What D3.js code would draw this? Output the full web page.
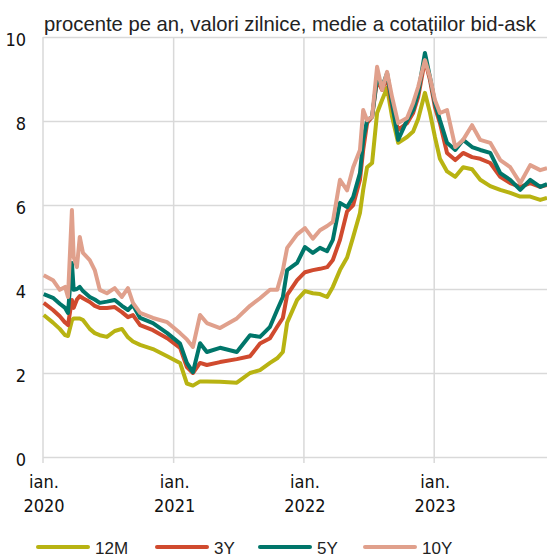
<!DOCTYPE html>
<html>
<head>
<meta charset="utf-8">
<script src="https://cdn.jsdelivr.net/npm/d3@7"></script>
<style>
  body { margin: 0; background: #fff; }
  svg { display: block; }
</style>
</head>
<body>
<div id="chart"></div>
<script>
// observation dates (approx. every 2-4 weeks, denser around spikes)
const dates = ["2020-01-03","2020-01-29","2020-02-17","2020-03-03","2020-03-11","2020-03-22","2020-03-27","2020-04-05","2020-04-13","2020-04-22",
  "2020-05-11","2020-05-25","2020-06-08","2020-06-28","2020-07-20","2020-08-09","2020-08-26","2020-09-09","2020-09-29","2020-11-04",
  "2020-12-14","2021-01-19","2021-02-07","2021-02-24","2021-03-16","2021-04-04","2021-05-11","2021-06-27","2021-08-03","2021-08-31",
  "2021-09-28","2021-10-18","2021-11-03","2021-11-15","2021-12-13","2022-01-04","2022-01-26","2022-02-15","2022-03-07","2022-03-23",
  "2022-04-12","2022-05-02","2022-05-19","2022-06-07","2022-06-16","2022-06-27","2022-07-11","2022-07-25","2022-08-08","2022-08-22",
  "2022-09-05","2022-09-22","2022-10-17","2022-11-03","2022-11-17","2022-12-06","2022-12-20","2023-01-03","2023-01-17","2023-02-06",
  "2023-03-01","2023-03-23","2023-04-17","2023-05-10","2023-06-07","2023-07-05","2023-08-02","2023-08-30","2023-09-27","2023-10-25",
  "2023-11-13"];

const y12M = [3.38,3.2,3.05,2.9,2.88,3.25,3.3,3.3,3.3,3.26, 3.05,2.95,2.9,2.86,3.0,3.05,2.85,2.75,2.67,2.57,
  2.4,2.24,1.75,1.7,1.8,1.8,1.79,1.77,2.0,2.07, 2.24,2.35,2.5,3.2,3.74,3.95,3.9,3.88,3.81,4.05,
  4.45,4.75,5.24,5.81,6.36,6.9,7.0,8.19,8.5,8.79, 8.1,7.48,7.62,7.75,8.05,8.67,8.2,7.62,7.1,6.8,
  6.67,6.9,6.85,6.6,6.45,6.36,6.29,6.2,6.2,6.12, 6.17];

const y3Y = [3.67,3.5,3.35,3.2,3.14,3.74,3.55,3.75,3.83,3.78, 3.69,3.6,3.55,3.55,3.57,3.45,3.33,3.38,3.14,3.02,
  2.83,2.6,2.14,2.0,2.24,2.19,2.26,2.33,2.4,2.7, 2.83,3.1,3.31,3.86,4.21,4.4,4.45,4.48,4.52,4.69,
  5.17,5.85,6.0,6.6,7.31,7.95,8.1,8.98,8.74,9.05, 8.33,7.79,7.95,8.19,8.57,9.45,8.98,8.33,7.95,7.24,
  7.07,7.24,7.14,7.1,7.0,6.67,6.52,6.43,6.52,6.43, 6.48];

const y5Y = [3.88,3.79,3.65,3.55,3.43,4.62,3.98,4.0,4.05,3.95, 3.81,3.75,3.67,3.7,3.74,3.6,3.5,3.62,3.31,3.19,
  2.95,2.7,2.24,2.02,2.71,2.5,2.6,2.5,2.9,2.86, 3.1,3.5,3.81,4.45,4.62,5.0,4.86,4.98,4.9,5.17,
  6.05,5.95,6.19,6.76,7.55,8.02,8.1,9.05,8.81,9.14, 8.43,7.55,8.02,8.26,8.67,9.62,9.05,8.43,8.02,7.48,
  7.31,7.55,7.38,7.31,7.24,6.76,6.6,6.36,6.6,6.43, 6.5];

const y10Y = [4.33,4.21,3.98,4.05,3.81,5.88,4.76,4.52,5.24,4.86, 4.69,4.45,3.98,3.9,4.02,3.81,4.02,3.67,3.43,3.31,
  3.21,2.95,2.8,2.62,3.38,3.19,3.07,3.3,3.6,3.78, 3.98,3.98,4.45,4.98,5.3,5.45,5.2,5.4,5.5,5.6,
  6.6,6.35,6.9,7.31,8.26,8.02,8.1,9.29,8.74,9.17, 8.57,7.95,8.07,8.43,8.81,9.45,9.05,8.5,8.19,8.26,
  7.38,7.55,7.9,7.55,7.48,7.07,6.9,6.52,6.95,6.83, 6.88];

const seriesNames = ["12M", "3Y", "5Y", "10Y"];
const seriesColors = ["#b8b312", "#d04a2e", "#00766a", "#e0a08c"];
const yTicks = [0, 2, 4, 6, 8, 10];
const yearTicks = ["2020-01-01", "2021-01-01", "2022-01-01", "2023-01-01"];

const width = 547, height = 560;
const parse = d3.timeParse("%Y-%m-%d");
const labelFont = "'Liberation Sans Narrow', 'DejaVu Sans Condensed', sans-serif";
const textFont = "'Liberation Sans', Arial, sans-serif";

const svg = d3.select("#chart").append("svg")
  .attr("width", width)
  .attr("height", height);

const x = d3.scaleTime()
  .domain([parse("2020-01-01"), parse("2023-11-13")])
  .range([43, 547]);

const y = d3.scaleLinear()
  .domain([0, 10])
  .range([457, 37]);

// horizontal grid + y labels
const yAxis = svg.append("g")
  .attr("transform", "translate(43,0)")
  .call(d3.axisLeft(y).tickValues(yTicks).tickSize(-(width - 43)).tickPadding(17));
yAxis.select(".domain").remove();
yAxis.selectAll(".tick line").attr("stroke", "#d9d9d9").attr("stroke-width", 1.5);
yAxis.selectAll(".tick text")
  .attr("font-family", labelFont)
  .attr("font-size", 18)
  .attr("fill", "#111")
  .attr("dy", "0.45em");

// vertical year lines
svg.append("g").selectAll("line")
  .data(yearTicks)
  .join("line")
    .attr("x1", (d) => x(parse(d)))
    .attr("x2", (d) => x(parse(d)))
    .attr("y1", y(10))
    .attr("y2", y(0) + 6)
    .attr("stroke", "#d9d9d9")
    .attr("stroke-width", 1.5);

// x labels: "ian." over the year
const xLab = svg.append("g")
  .attr("font-family", labelFont)
  .attr("font-size", 18)
  .attr("fill", "#111")
  .attr("text-anchor", "middle");
xLab.selectAll("text.m")
  .data(yearTicks)
  .join("text")
    .attr("class", "m")
    .attr("x", (d) => x(parse(d)) + 1)
    .attr("y", 488)
    .text("ian.");
xLab.selectAll("text.yr")
  .data(yearTicks)
  .join("text")
    .attr("class", "yr")
    .attr("x", (d) => x(parse(d)) + 1)
    .attr("y", 512)
    .text((d) => d.slice(0, 4));

// lines
const allValues = [y12M, y3Y, y5Y, y10Y];
const line = d3.line()
  .x((d) => x(d[0]))
  .y((d) => y(d[1]));

seriesNames.forEach((name, i) => {
  const pts = dates.map((d, j) => [parse(d), allValues[i][j]]);
  svg.append("path")
    .datum(pts)
    .attr("fill", "none")
    .attr("stroke", seriesColors[i])
    .attr("stroke-width", 4)
    .attr("stroke-linejoin", "round")
    .attr("d", line);
});

// title, sized so it runs from the axis to about x=538
const title = svg.append("text")
  .attr("x", 44)
  .attr("y", 31)
  .attr("font-family", textFont)
  .attr("font-size", 20)
  .attr("fill", "#222")
  .text("procente pe an, valori zilnice, medie a cotațiilor bid-ask");
const tw = title.node().getComputedTextLength();
title.attr("font-size", Math.min(22, 20 * 492 / tw));

// legend
const legendX = [38, 157, 260, 365];
const leg = svg.append("g");
seriesNames.forEach((name, i) => {
  leg.append("line")
    .attr("x1", legendX[i]).attr("x2", legendX[i] + 50)
    .attr("y1", 547).attr("y2", 547)
    .attr("stroke", seriesColors[i])
    .attr("stroke-width", 4)
    .attr("stroke-linecap", "round");
  leg.append("text")
    .attr("x", legendX[i] + 57)
    .attr("y", 554)
    .attr("font-family", textFont)
    .attr("font-size", 17)
    .attr("fill", "#222")
    .text(name);
});
</script>
</body>
</html>
